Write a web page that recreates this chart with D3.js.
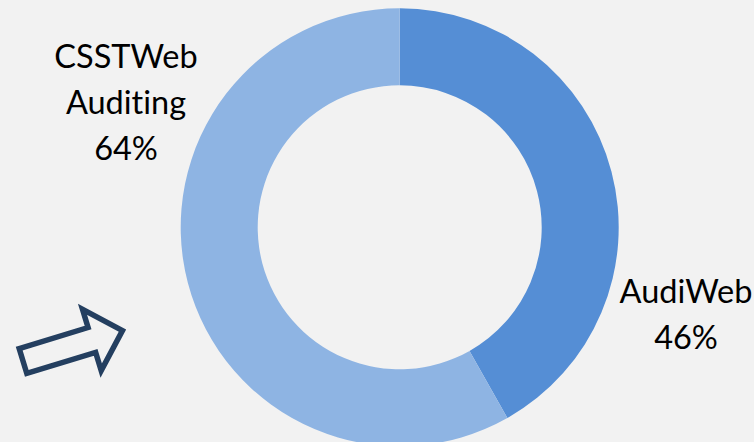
<!DOCTYPE html>
<html>
<head>
<meta charset="utf-8">
<script src="https://cdn.jsdelivr.net/npm/d3@7/dist/d3.min.js"></script>
<style>
  html, body { margin: 0; padding: 0; background: #f2f2f2; }
  svg { display: block; }
  text { font-family: Lato, "Open Sans", sans-serif; fill: #000; font-variant-ligatures: none; }
</style>
</head>
<body>
<svg id="chart" width="754" height="442"></svg>
<script>
// Share of audited web traffic, as printed on the labels
const categories = ["AudiWeb", "CSSTWeb Auditing"];
const values = [46, 64];
const labelLines = [["AudiWeb", "46%"], ["CSSTWeb", "Auditing", "64%"]];
const colors = ["#558ed5", "#8eb4e3"];

const W = 754, H = 442;
const cx = 399.7, cy = 227.3;
const outerR = 219, innerR = 142;

const svg = d3.select("#chart");
svg.append("rect").attr("width", W).attr("height", H).attr("fill", "#f2f2f2");

const pie = d3.pie().sort(null).value(d => d);
const arcs = pie(values);
const arc = d3.arc().innerRadius(innerR).outerRadius(outerR);

const g = svg.append("g").attr("transform", `translate(${cx},${cy})`);
g.selectAll("path.slice")
  .data(arcs)
  .join("path")
  .attr("class", "slice")
  .attr("d", arc)
  .attr("fill", (d, i) => colors[i]);

// Label anchors: centre x and first baseline of each label block
const labelAnchors = [
  { x: 686, y: 303 },
  { x: 126, y: 68 }
];
const lineGap = 46;

labelLines.forEach((lines, i) => {
  const t = svg.append("text")
    .attr("text-anchor", "middle")
    .attr("font-size", 32.5);
  lines.forEach((ln, j) => {
    t.append("tspan")
      .attr("x", labelAnchors[i].x)
      .attr("y", labelAnchors[i].y + j * lineGap)
      .text(ln);
  });
});

// Outlined block arrow pointing at the chart
const arrowShape = [[0, -13], [72, -13], [72, -32], [104, 0], [72, 32], [72, 13], [0, 13]];
svg.append("path")
  .attr("transform", "translate(23,361) rotate(-17)")
  .attr("d", d3.line()(arrowShape) + "Z")
  .attr("fill", "none")
  .attr("stroke", "#243f60")
  .attr("stroke-width", 5.5)
  .attr("stroke-linejoin", "miter");
</script>
</body>
</html>
